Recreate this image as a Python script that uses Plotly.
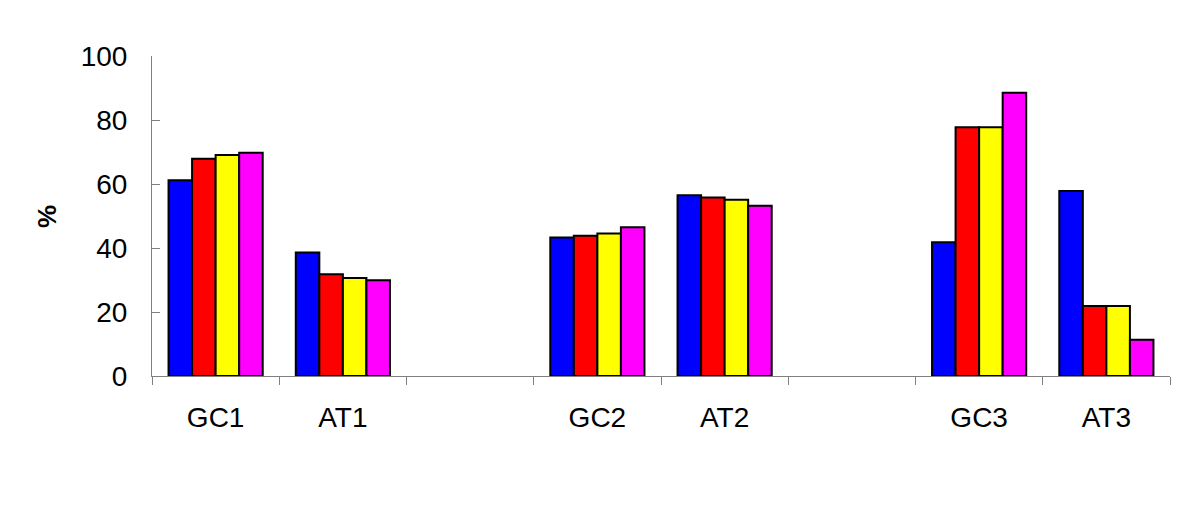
import plotly.graph_objects as go

categories = ["GC1", "AT1", " ", "GC2", "AT2", "  ", "GC3", "AT3"]

blue_vals = [61.2, 38.6, None, 43.3, 56.5, None, 41.8, 57.8]
red_vals = [67.9, 31.8, None, 43.8, 55.8, None, 77.7, 21.9]
yellow_vals = [69.1, 30.6, None, 44.5, 55.1, None, 77.7, 21.9]
magenta_vals = [69.8, 29.9, None, 46.5, 53.2, None, 88.5, 11.3]

series = [
    ("s1", blue_vals, "#0000FF"),
    ("s2", red_vals, "#FF0000"),
    ("s3", yellow_vals, "#FFFF00"),
    ("s4", magenta_vals, "#FF00FF"),
]

fig = go.Figure()

for name, vals, color in series:
    fig.add_trace(
        go.Bar(
            x=categories,
            y=vals,
            name=name,
            marker=dict(color=color, line=dict(color="#000000", width=2)),
            hoverinfo="skip",
        )
    )

font_family = "Liberation Sans, Arial, sans-serif"

# page body has an 8px margin, so the plot box is shifted by that amount
fig.update_layout(
    width=1200,
    height=511,
    barmode="group",
    bargap=0.26,
    bargroupgap=0,
    showlegend=False,
    plot_bgcolor="white",
    paper_bgcolor="white",
    margin=dict(l=144, r=38, t=48, b=143),
    font=dict(family=font_family, color="#000000"),
    xaxis=dict(
        type="category",
        categoryorder="array",
        categoryarray=categories,
        tickson="boundaries",
        ticks="outside",
        ticklen=8,
        tickcolor="#808080",
        tickwidth=1,
        showline=True,
        linecolor="#808080",
        linewidth=1,
        showgrid=False,
        tickfont=dict(size=28, family=font_family),
        ticklabelstandoff=16,
        fixedrange=True,
    ),
    yaxis=dict(
        range=[0, 100],
        tickvals=[0, 20, 40, 60, 80, 100],
        ticks="inside",
        ticklen=8,
        tickcolor="#808080",
        tickwidth=1,
        showline=True,
        linecolor="#808080",
        linewidth=1,
        showgrid=False,
        zeroline=False,
        tickfont=dict(size=28, family=font_family),
        ticklabelstandoff=18,
        fixedrange=True,
    ),
)

fig.add_annotation(
    text="<b>%</b>",
    xref="paper",
    yref="paper",
    x=-0.103,
    y=0.497,
    xanchor="center",
    yanchor="middle",
    textangle=-90,
    showarrow=False,
    font=dict(size=26, family=font_family, color="#000000"),
)

fig.write_html("out.html")
